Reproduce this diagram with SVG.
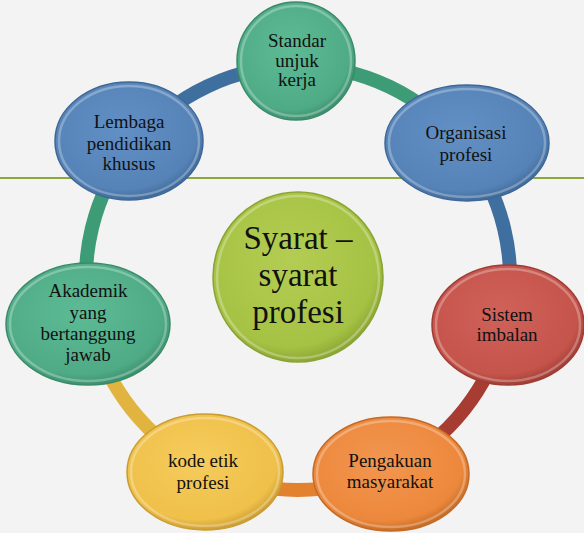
<svg xmlns="http://www.w3.org/2000/svg" width="584" height="533" viewBox="0 0 584 533" font-family="'Liberation Serif', serif">
<defs>
<style>
.t{font-family:'Liberation Serif',serif;font-size:19px;fill:#111;text-anchor:middle}
.c{font-size:33px}
.rim{fill:none;stroke:#fff;stroke-opacity:0.28;stroke-width:2.5}
.arc{fill:none;stroke-width:14;stroke-linecap:butt}
</style>
<radialGradient id="gGreen" cx="0.45" cy="0.4" r="0.6"><stop offset="0" stop-color="#5cbb95"/><stop offset="0.85" stop-color="#4fab86"/><stop offset="1" stop-color="#3e9270"/></radialGradient>
<radialGradient id="gBlue" cx="0.45" cy="0.4" r="0.6"><stop offset="0" stop-color="#6290c4"/><stop offset="0.85" stop-color="#5683b7"/><stop offset="1" stop-color="#416c9c"/></radialGradient>
<radialGradient id="gLime" cx="0.45" cy="0.4" r="0.6"><stop offset="0" stop-color="#b3cd52"/><stop offset="0.85" stop-color="#a6c244"/><stop offset="1" stop-color="#8ea836"/></radialGradient>
<radialGradient id="gRed" cx="0.45" cy="0.4" r="0.6"><stop offset="0" stop-color="#d0625a"/><stop offset="0.85" stop-color="#c5544b"/><stop offset="1" stop-color="#a43f37"/></radialGradient>
<radialGradient id="gYellow" cx="0.45" cy="0.4" r="0.6"><stop offset="0" stop-color="#f6cc5c"/><stop offset="0.85" stop-color="#efc04a"/><stop offset="1" stop-color="#cfa033"/></radialGradient>
<radialGradient id="gOrange" cx="0.45" cy="0.4" r="0.6"><stop offset="0" stop-color="#f29650"/><stop offset="0.85" stop-color="#ec883c"/><stop offset="1" stop-color="#c96e27"/></radialGradient>
</defs>
<rect width="584" height="533" fill="#f3f3f3"/>
<line x1="0" y1="178" x2="584" y2="178" stroke="#8ea93b" stroke-width="2"/>
<g id="connectors">
<path class="arc" stroke="#3d9b76" d="M298 66 A212 212 0 0 1 462.7 144.6"/>
<path class="arc" stroke="#3f6f9f" d="M462.7 144.6 A212 212 0 0 1 505.4 322.1"/>
<path class="arc" stroke="#a73c33" d="M505.4 322.1 A212 212 0 0 1 389.3 469.3"/>
<path class="arc" stroke="#e2822f" d="M389.3 469.3 A212 212 0 0 1 205.1 468.5"/>
<path class="arc" stroke="#e1b43f" d="M205.1 468.5 A212 212 0 0 1 90.6 322.1"/>
<path class="arc" stroke="#3d9b76" d="M90.6 322.1 A212 212 0 0 1 134.2 143.4"/>
<path class="arc" stroke="#3f6f9f" d="M134.2 143.4 A212 212 0 0 1 298 66"/>
</g>
<g id="center">
<ellipse cx="298" cy="277" rx="85" ry="85" fill="url(#gLime)" stroke="#8aa332" stroke-width="1.5"/>
<ellipse class="rim" cx="298" cy="277" rx="81" ry="81"/>
<text class="t c" x="298" y="249">Syarat –</text>
<text class="t c" x="298" y="286">syarat</text>
<text class="t c" x="298" y="323">profesi</text>
</g>
<g id="standar">
<ellipse cx="296" cy="61" rx="59" ry="59" fill="url(#gGreen)" stroke="#3a8a69" stroke-width="1.5"/>
<ellipse class="rim" cx="296" cy="61" rx="55" ry="55"/>
<text class="t" x="297" y="47">Standar</text>
<text class="t" x="297" y="67">unjuk</text>
<text class="t" x="297" y="86">kerja</text>
</g>
<g id="organisasi">
<ellipse cx="467" cy="143" rx="82" ry="58" fill="url(#gBlue)" stroke="#3d6796" stroke-width="1.5"/>
<ellipse class="rim" cx="467" cy="143" rx="78" ry="54"/>
<text class="t" x="466" y="139">Organisasi</text>
<text class="t" x="466" y="161">profesi</text>
</g>
<g id="sistem">
<ellipse cx="508" cy="325" rx="76" ry="60" fill="url(#gRed)" stroke="#9e3c34" stroke-width="1.5"/>
<ellipse class="rim" cx="508" cy="325" rx="72" ry="56"/>
<text class="t" x="507" y="321">Sistem</text>
<text class="t" x="507" y="341">imbalan</text>
</g>
<g id="pengakuan">
<ellipse cx="391" cy="474" rx="78" ry="57" fill="url(#gOrange)" stroke="#c26a25" stroke-width="1.5"/>
<ellipse class="rim" cx="391" cy="474" rx="74" ry="53"/>
<text class="t" x="390" y="467">Pengakuan</text>
<text class="t" x="390" y="488">masyarakat</text>
</g>
<g id="kode">
<ellipse cx="205" cy="472" rx="78" ry="58" fill="url(#gYellow)" stroke="#c99c30" stroke-width="1.5"/>
<ellipse class="rim" cx="205" cy="472" rx="74" ry="54"/>
<text class="t" x="203" y="467">kode etik</text>
<text class="t" x="203" y="489">profesi</text>
</g>
<g id="akademik">
<ellipse cx="88" cy="324" rx="82" ry="61" fill="url(#gGreen)" stroke="#3a8a69" stroke-width="1.5"/>
<ellipse class="rim" cx="88" cy="324" rx="78" ry="57"/>
<text class="t" x="88" y="297">Akademik</text>
<text class="t" x="88" y="319">yang</text>
<text class="t" x="88" y="340">bertanggung</text>
<text class="t" x="88" y="361">jawab</text>
</g>
<g id="lembaga">
<ellipse cx="129" cy="141" rx="74" ry="59" fill="url(#gBlue)" stroke="#3d6796" stroke-width="1.5"/>
<ellipse class="rim" cx="129" cy="141" rx="70" ry="55"/>
<text class="t" x="129" y="128">Lembaga</text>
<text class="t" x="129" y="150">pendidikan</text>
<text class="t" x="129" y="170">khusus</text>
</g>
</svg>
